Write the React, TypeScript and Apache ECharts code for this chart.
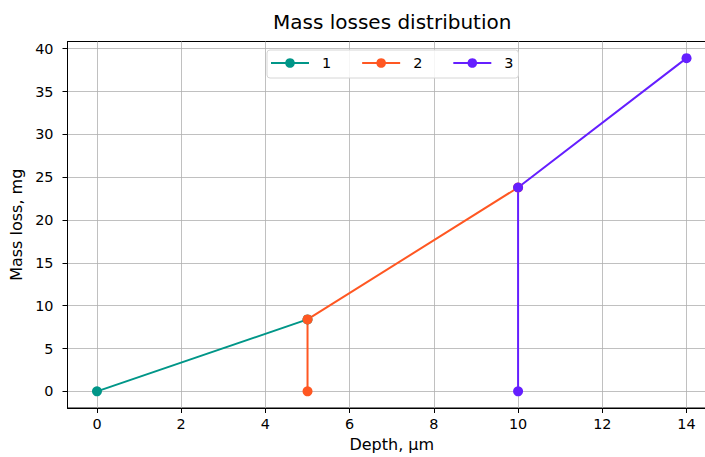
import React, { useEffect, useRef } from "react";
import * as echarts from "echarts";

const seriesNames = ["1", "2", "3"];
const seriesColors = ["#009688", "#FF5722", "#651FFF"];
const series1: [number, number][] = [[0, 0], [5, 8.4]];
const series2: [number, number][] = [[5, 0], [5, 8.4], [10, 23.8]];
const series3: [number, number][] = [[10, 0], [10, 23.8], [14, 38.9]];
const xTicks = [0, 2, 4, 6, 8, 10, 12, 14];
const yTicks = [0, 5, 10, 15, 20, 25, 30, 35, 40];

const FONT = "DejaVu Sans";

export default function App() {
  const ref = useRef<HTMLDivElement>(null);
  useEffect(() => {
    const chart = echarts.init(ref.current!, null, { renderer: "svg" });
    const datas = [series1, series2, series3];
    chart.setOption({
      animation: false,
      title: {
        text: "Mass losses distribution",
        left: 273,
        top: 12,
        padding: 0,
        textStyle: { fontFamily: FONT, fontSize: 20, fontWeight: "normal", color: "#000" },
      },
      legend: {
        top: 50,
        left: 267,
        itemWidth: 38,
        itemHeight: 12,
        itemGap: 30,
        padding: [6, 5, 8, 3],
        backgroundColor: "rgba(255,255,255,0.85)",
        borderColor: "#d6d6d6",
        borderWidth: 1,
        borderRadius: 3,
        textStyle: { fontFamily: FONT, fontSize: 14.4, color: "#000", padding: [0, 0, 0, 8] },
        data: seriesNames,
      },
      grid: {
        left: 67.5,
        top: 41.5,
        width: 648.5,
        height: 370,
        show: true,
        borderColor: "#000",
        borderWidth: 1,
        backgroundColor: "transparent",
      },
      xAxis: {
        type: "value",
        min: -0.7,
        max: 14.7,
        name: "Depth, µm",
        nameLocation: "middle",
        nameGap: 28,
        nameTextStyle: { fontFamily: FONT, fontSize: 16, color: "#000" },
        axisLine: { show: true, onZero: false, lineStyle: { color: "#000", width: 1 } },
        axisTick: { show: true, length: 5, customValues: xTicks, lineStyle: { color: "#000" } },
        axisLabel: { customValues: xTicks, fontFamily: FONT, fontSize: 14.4, color: "#000", margin: 9 },
        splitLine: { show: true, lineStyle: { color: "#b0b0b0", width: 0.8 } },
      },
      yAxis: {
        type: "value",
        min: -1.945,
        max: 40.845,
        name: "Mass loss, mg",
        nameLocation: "middle",
        nameGap: 40,
        nameRotate: 90,
        nameTextStyle: { fontFamily: FONT, fontSize: 16, color: "#000" },
        axisLine: { show: true, onZero: false, lineStyle: { color: "#000", width: 1 } },
        axisTick: { show: true, length: 5, customValues: yTicks, lineStyle: { color: "#000" } },
        axisLabel: { customValues: yTicks, fontFamily: FONT, fontSize: 14.4, color: "#000", margin: 14 },
        splitLine: { show: true, lineStyle: { color: "#b0b0b0", width: 0.8 } },
      },
      series: seriesNames.map((name, i) => ({
        name,
        type: "line",
        data: datas[i],
        symbol: "circle",
        symbolSize: 10,
        color: seriesColors[i],
        lineStyle: { width: 2, color: seriesColors[i] },
        itemStyle: { color: seriesColors[i] },
      })),
    });
    return () => chart.dispose();
  }, []);
  return (
    <div
      ref={ref}
      style={{ position: "fixed", left: 0, top: 0, width: 730, height: 457, background: "#fff" }}
    />
  );
}
